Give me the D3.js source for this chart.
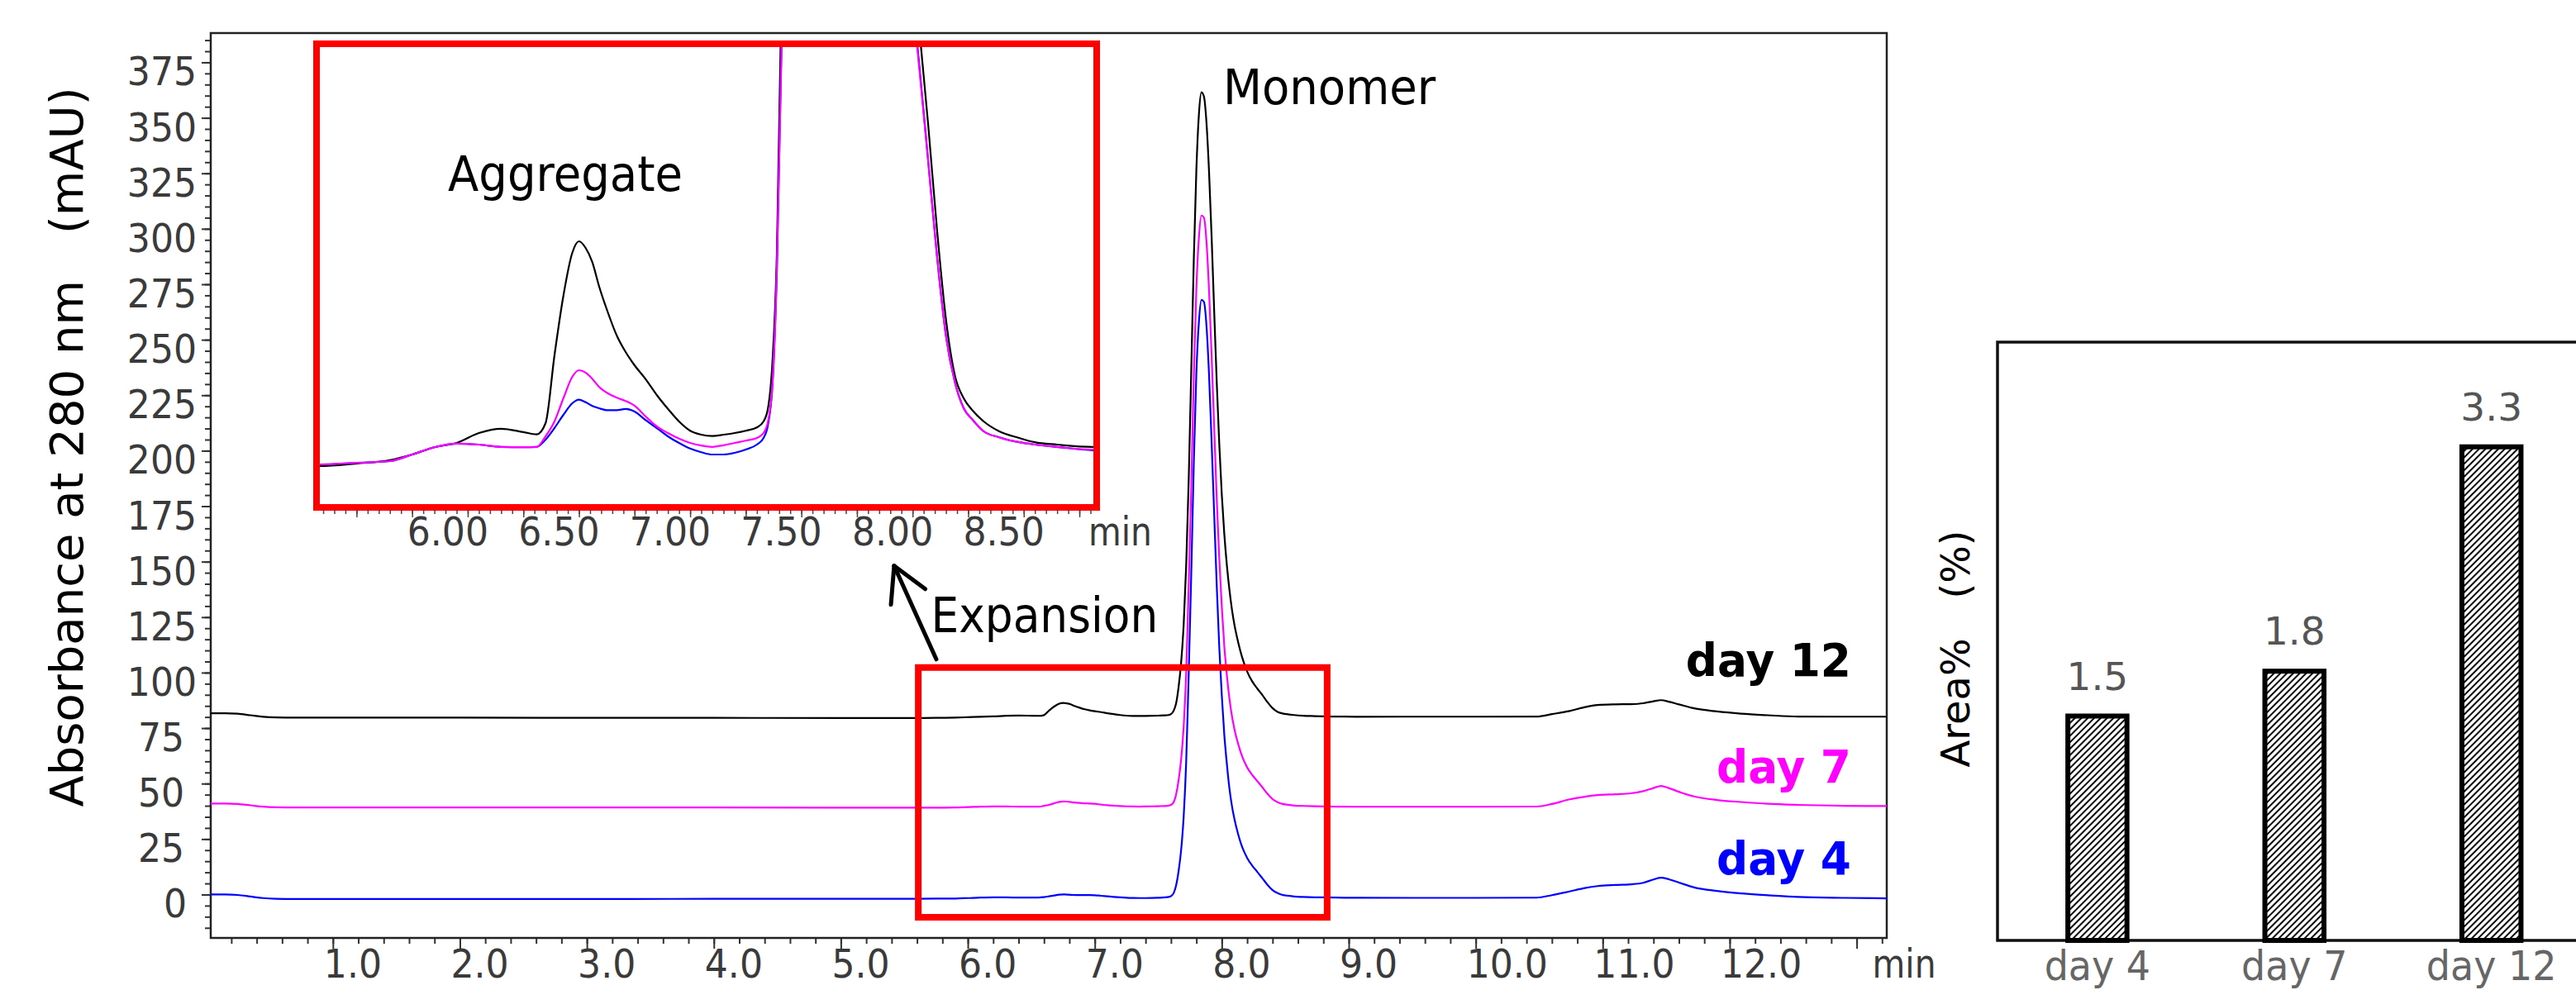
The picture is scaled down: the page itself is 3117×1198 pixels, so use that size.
<!DOCTYPE html>
<html>
<head>
<meta charset="utf-8">
<script src="https://cdn.jsdelivr.net/npm/d3@7"></script>
<style>
  html, body { margin: 0; padding: 0; background: #fff; }
  svg { display: block; }
  text { font-family: "DejaVu Sans", Verdana, sans-serif; }
</style>
</head>
<body>
<svg id="chart" width="3117" height="1198"></svg>
<script>
// ---------------- data ----------------
// Retention time grid (min), shared by all three chromatograms
const retentionTime = [
  0.038, 0.15, 0.25, 0.35, 0.45, 0.55, 0.7, 1.0, 2.0, 3.0, 4.0, 5.0,
  5.58, 5.75, 5.9, 6.0, 6.1, 6.2, 6.3, 6.4, 6.5,
  6.56, 6.6, 6.64, 6.68, 6.72, 6.75, 6.78, 6.81, 6.84, 6.88, 6.92, 6.96,
  7.0, 7.05, 7.1, 7.15, 7.2, 7.25, 7.3, 7.35, 7.4, 7.45, 7.5, 7.55, 7.58,
  7.6, 7.62, 7.64, 7.66, 7.68, 7.70, 7.72, 7.74, 7.76, 7.78, 7.80, 7.82, 7.84, 7.86, 7.88, 7.90, 7.92, 7.94, 7.96, 7.98,
  8.00, 8.02, 8.04, 8.06, 8.08, 8.10, 8.13, 8.16, 8.20, 8.24, 8.28, 8.32, 8.36, 8.40, 8.44,
  8.48, 8.52, 8.57, 8.64, 8.73, 8.80, 8.90, 9.06, 9.5, 10.0, 10.48,
  10.6, 10.74, 10.85, 10.96, 11.1, 11.22, 11.32, 11.40, 11.46, 11.52, 11.60, 11.72, 11.9, 12.09, 12.3, 12.54, 12.9, 13.237
];

// Absorbance at 280 nm (mAU), relative to each run's auto-zero
const absDay4 = [
  0, 0, -0.2, -0.9, -1.6, -1.9, -2.0, -2.0, -2.0, -2.0, -1.95, -1.9,
  -1.9, -1.85, -1.8, -1.6, -1.38, -1.27, -1.3, -1.37, -1.38,
  -1.37, -1.15, -0.8, -0.4, -0.05, 0.06, -0.02, -0.13, -0.2, -0.26, -0.26, -0.22,
  -0.3, -0.56, -0.8, -1.05, -1.25, -1.42, -1.53, -1.6, -1.6, -1.55, -1.45, -1.3, -1.1,
  -0.7, 0.5, 4, 10.5, 20, 35, 60, 100, 145, 195, 235, 258, 268, 267, 256, 234, 204, 172, 140, 112,
  90, 72, 59, 48, 40, 34, 27, 21.5, 16.5, 13, 10.2, 7.3, 4.4, 2.0, 0.6,
  -0.2, -0.55, -0.9, -1.08, -1.23, -1.3, -1.37, -1.47, -1.5, -1.5, -1.4,
  -0.3, 1.4, 2.8, 3.8, 4.3, 4.6, 5.3, 6.8, 7.6, 6.9, 5.4, 3.2, 1.6, 0.5, -0.3, -1.1, -1.5, -1.7
];
const absDay7 = [
  0, 0, -0.2, -0.8, -1.4, -1.65, -1.75, -1.75, -1.75, -1.8, -1.8, -1.85,
  -1.9, -1.85, -1.8, -1.6, -1.38, -1.27, -1.3, -1.37, -1.38,
  -1.37, -1.05, -0.6, 0.1, 0.75, 0.95, 0.88, 0.69, 0.45, 0.25, 0.12, 0.02,
  -0.12, -0.45, -0.75, -0.95, -1.12, -1.25, -1.33, -1.37, -1.32, -1.25, -1.18, -1.1, -0.95,
  -0.6, 0.5, 4, 10.4, 19.8, 34.6, 59, 99, 143, 193, 232, 255, 265, 264, 253, 231, 202, 170, 138, 111,
  89, 71, 58, 47.5, 39.5, 33.5, 26.7, 21.3, 16.3, 12.9, 10.1, 7.3, 4.4, 2.0, 0.6,
  -0.2, -0.55, -0.9, -1.08, -1.23, -1.3, -1.37, -1.45, -1.45, -1.45, -1.35,
  -0.2, 1.9, 3.0, 3.8, 4.2, 4.6, 5.6, 7.0, 7.9, 7.0, 5.3, 3.2, 1.6, 0.7, -0.1, -0.6, -1.0, -1.15
];
const absDay12 = [
  0.2, 0.2, 0, -0.7, -1.4, -1.7, -1.8, -1.8, -1.8, -1.85, -1.9, -1.95,
  -1.95, -1.87, -1.77, -1.6, -1.38, -1.25, -0.95, -0.82, -0.92,
  -0.99, -0.65, 1.4, 3.2, 4.5, 4.85, 4.65, 4.22, 3.5, 2.7, 2.0, 1.5,
  1.1, 0.68, 0.2, -0.22, -0.6, -0.88, -1.0, -1.04, -1.0, -0.95, -0.88, -0.78, -0.6,
  -0.2, 1.2, 4.5, 12, 23, 40, 67, 106, 155, 205, 245, 270, 280, 278, 266, 244, 215, 182, 150, 122,
  99, 81, 67, 56, 47, 40, 32, 25.5, 19, 14.5, 11.3, 8.4, 5.2, 2.5, 0.8,
  0.1, -0.27, -0.6, -0.9, -1.1, -1.23, -1.3, -1.37, -1.35, -1.35, -1.3,
  -0.2, 1.2, 2.8, 3.9, 4.2, 4.3, 4.7, 5.6, 6.1, 5.4, 4.2, 2.4, 1.0, 0.0, -0.7, -1.3, -1.35, -1.35
];

const sampleNames   = ["day 4", "day 7", "day 12"];
const sampleOffsets = [0, 41, 81.5];          // vertical stacking in the overview (mAU)
const sampleColors  = ["#0000ff", "#ff00ff", "#000000"];
const sampleLabelAbs = [9, 50.6, 98.5];       // where each sample name sits (mAU)

const timeRange = [0.038, 13.237];
const absRange  = [-19.56, 388.2];
const yLabelValues = [0, 25, 50, 75, 100, 125, 150, 175, 200, 225, 250, 275, 300, 325, 350, 375];
const xLabelValues = [1, 2, 3, 4, 5, 6, 7, 8, 9, 10, 11, 12];

// Expanded window
const insetTimeRange = [5.585, 9.063];
const insetAbsRange  = [-3.1, 10.725];
const insetLabelValues = [6.0, 6.5, 7.0, 7.5, 8.0, 8.5];
const expansionBox = { t0: 5.61, t1: 8.83, a0: -10.25, a1: 102.3 };

// Aggregate peak area
const aggregateCategories = ["day 4", "day 7", "day 12"];
const aggregateArea = [1.5, 1.8, 3.3];

// ---------------- drawing ----------------
const W = 3117, H = 1198;
const svg = d3.select("#chart");
svg.append("rect").attr("width", W).attr("height", H).attr("fill", "#fff");

const defs = svg.append("defs");

// text helper: optional horizontal squeeze to mimic the narrower face
function addText(g, px, py, str, o) {
  return g.append("text")
    .attr("transform", `translate(${px},${py}) scale(${o.sx || 1},${o.sy || 1})`)
    .attr("text-anchor", o.anchor || "start")
    .attr("font-size", o.size)
    .attr("font-weight", o.weight || "normal")
    .attr("fill", o.fill || "#000")
    .text(str);
}

// ===== main chromatogram =====
const plot = { left: 255, right: 2283, top: 40, bottom: 1135 };
const x = d3.scaleLinear().domain(timeRange).range([plot.left, plot.right]);
const y = d3.scaleLinear().domain(absRange).range([plot.bottom, plot.top]);

defs.append("clipPath").attr("id", "clipMain")
  .append("rect").attr("x", plot.left).attr("y", plot.top)
  .attr("width", plot.right - plot.left).attr("height", plot.bottom - plot.top);

const gMain = svg.append("g");

function tickStyle(g, color, w) {
  g.select(".domain").remove();
  g.selectAll("line").attr("stroke", color).attr("stroke-width", w);
}

// y ticks
const yMinor = d3.range(-15, 386, 5);
gMain.append("g").attr("transform", `translate(${plot.left},0)`)
  .call(d3.axisLeft(y).tickValues(yMinor).tickSize(7).tickFormat(""))
  .call(tickStyle, "#333", 2);
gMain.append("g").attr("transform", `translate(${plot.left},0)`)
  .call(d3.axisLeft(y).tickValues(yLabelValues).tickSize(11).tickFormat(""))
  .call(tickStyle, "#333", 2);

// label centre depends on digit count (single "0" sits further right)
const yLabelCentre = { 1: 212, 2: 195, 3: 196 };
yLabelValues.forEach(v => {
  const s = String(v);
  addText(gMain, yLabelCentre[s.length], y(v) + 28, s,
    { size: 48, sx: 0.92, anchor: "middle", fill: "#3a3a3a" });
});

// x ticks
const xMinor = d3.range(1, 67).map(i => +(i * 0.2).toFixed(1));
const xMajor = d3.range(1, 14);
gMain.append("g").attr("transform", `translate(0,${plot.bottom})`)
  .call(d3.axisBottom(x).tickValues(xMinor).tickSize(7).tickFormat(""))
  .call(tickStyle, "#333", 2);
gMain.append("g").attr("transform", `translate(0,${plot.bottom})`)
  .call(d3.axisBottom(x).tickValues(xMajor).tickSize(13).tickFormat(""))
  .call(tickStyle, "#333", 2);

xLabelValues.forEach(v => {
  addText(gMain, x(v) - 11, 1183, d3.format(".1f")(v), { size: 48, sx: 0.92, fill: "#3a3a3a" });
});
addText(gMain, x(13) + 19, 1183, "min", { size: 48, sx: 0.85, fill: "#3a3a3a" });

// frame
gMain.append("rect")
  .attr("x", plot.left).attr("y", plot.top)
  .attr("width", plot.right - plot.left).attr("height", plot.bottom - plot.top)
  .attr("fill", "none").attr("stroke", "#222").attr("stroke-width", 2.5);

// traces
const drawOrder = [2, 0, 1];
const gTraces = gMain.append("g").attr("clip-path", "url(#clipMain)");
const series = [absDay4, absDay7, absDay12];
const lineMain = d3.line().x(d => x(d[0])).y(d => y(d[1])).curve(d3.curveMonotoneX);
drawOrder.forEach(i => {
  const pts = retentionTime.map((t, k) => [t, series[i][k] + sampleOffsets[i]]);
  gTraces.append("path").datum(pts)
    .attr("d", lineMain).attr("fill", "none")
    .attr("stroke", sampleColors[i]).attr("stroke-width", 2.2)
    .attr("stroke-linejoin", "round");
});

// sample names
sampleNames.forEach((nm, i) => {
  addText(gMain, x(12.957), y(sampleLabelAbs[i]), nm,
    { size: 55, sx: 0.97, anchor: "end", weight: "bold", fill: sampleColors[i] });
});

// expansion box
gMain.append("rect")
  .attr("x", x(expansionBox.t0)).attr("y", y(expansionBox.a1))
  .attr("width", x(expansionBox.t1) - x(expansionBox.t0))
  .attr("height", y(expansionBox.a0) - y(expansionBox.a1))
  .attr("fill", "none").attr("stroke", "#ff0000").attr("stroke-width", 8);

// arrow toward the expanded view
const tail = [x(5.752), y(106)], tip = [x(5.42), y(148.1)];
const back = Math.atan2(tail[1] - tip[1], tail[0] - tip[0]);
const headLen = 47, headAng = 29 * Math.PI / 180;
const gArrow = gMain.append("g").attr("stroke", "#000").attr("stroke-width", 5)
  .attr("fill", "none").attr("stroke-linecap", "round");
gArrow.append("line").attr("x1", tail[0]).attr("y1", tail[1]).attr("x2", tip[0]).attr("y2", tip[1]);
[-1, 1].forEach(s => {
  gArrow.append("line").attr("x1", tip[0]).attr("y1", tip[1])
    .attr("x2", tip[0] + headLen * Math.cos(back + s * headAng))
    .attr("y2", tip[1] + headLen * Math.sin(back + s * headAng));
});
addText(gMain, x(5.71), y(118.3), "Expansion", { size: 58, sx: 0.92 });
addText(gMain, x(8.01), y(356), "Monomer", { size: 58, sx: 0.94 });

// ===== expanded view =====
const inset = { left: 387, right: 1323, top: 57, bottom: 610 };
const xi = d3.scaleLinear().domain(insetTimeRange).range([inset.left, inset.right]);
const yi = d3.scaleLinear().domain(insetAbsRange).range([inset.bottom, inset.top]);

defs.append("clipPath").attr("id", "clipInset")
  .append("rect").attr("x", inset.left).attr("y", inset.top)
  .attr("width", inset.right - inset.left).attr("height", inset.bottom - inset.top);

const gInset = svg.append("g");
gInset.append("rect").attr("x", inset.left - 8).attr("y", inset.top - 8)
  .attr("width", inset.right - inset.left + 16).attr("height", inset.bottom - inset.top + 16)
  .attr("fill", "#fff");

const gInsetTraces = gInset.append("g").attr("clip-path", "url(#clipInset)");
const lineInset = d3.line().x(d => xi(d[0])).y(d => yi(d[1])).curve(d3.curveMonotoneX);
drawOrder.forEach(i => {
  const pts = retentionTime.map((t, k) => [t, series[i][k]]);
  gInsetTraces.append("path").datum(pts)
    .attr("d", lineInset).attr("fill", "none")
    .attr("stroke", sampleColors[i]).attr("stroke-width", 2.2)
    .attr("stroke-linejoin", "round");
});

gInset.append("rect")
  .attr("x", inset.left - 4).attr("y", inset.top - 4)
  .attr("width", inset.right - inset.left + 8).attr("height", inset.bottom - inset.top + 8)
  .attr("fill", "none").attr("stroke", "#ff0000").attr("stroke-width", 8);

// inset x ticks
const insetMinor = d3.range(112, 182).map(i => +(i * 0.05).toFixed(2));
const insetMajor = d3.range(23, 37).map(i => i * 0.25);
gInset.append("g").attr("transform", `translate(0,${inset.bottom + 7})`)
  .call(d3.axisBottom(xi).tickValues(insetMinor).tickSize(5).tickFormat(""))
  .call(tickStyle, "#444", 1.5);
gInset.append("g").attr("transform", `translate(0,${inset.bottom + 7})`)
  .call(d3.axisBottom(xi).tickValues(insetMajor).tickSize(9).tickFormat(""))
  .call(tickStyle, "#444", 1.5);
insetLabelValues.forEach(v => {
  addText(gInset, xi(v) - 6, 660, d3.format(".2f")(v), { size: 48, sx: 0.92, fill: "#3a3a3a" });
});
addText(gInset, 1317, 660, "min", { size: 48, sx: 0.85, fill: "#3a3a3a" });
addText(gInset, xi(6.161), yi(6.375), "Aggregate", { size: 58, sx: 0.94 });

// y-axis title
addText(svg, 0, 0, "Absorbance at 280 nm\u3000(mAU)", { size: 56 })
  .attr("transform", "translate(100,541) rotate(-90)")
  .attr("text-anchor", "middle");

// ===== aggregate area bars =====
const bx = d3.scaleBand().domain(aggregateCategories)
  .range([2418.7, 3133.9]).paddingInner(0.7).paddingOuter(0.35);
const by = d3.scaleLinear().domain([0, 4]).range([1138, 414]);

const hatch = defs.append("pattern").attr("id", "hatch")
  .attr("patternUnits", "userSpaceOnUse").attr("width", 5.5).attr("height", 5.5)
  .attr("patternTransform", "rotate(-45)");
hatch.append("rect").attr("width", 5.5).attr("height", 5.5).attr("fill", "#fff");
hatch.append("line").attr("x1", 0).attr("y1", 2.75).attr("x2", 5.5).attr("y2", 2.75)
  .attr("stroke", "#000").attr("stroke-width", 2);

const gBar = svg.append("g");
gBar.append("path")
  .attr("d", `M${W + 5},${by.range()[1]} H2417 V${by(0)} H${W + 5}`)
  .attr("fill", "none").attr("stroke", "#111").attr("stroke-width", 3.5);

gBar.selectAll("rect.bar").data(aggregateArea).join("rect").attr("class", "bar")
  .attr("x", (d, i) => bx(aggregateCategories[i]))
  .attr("width", bx.bandwidth())
  .attr("y", d => by(d))
  .attr("height", d => by(0) - by(d))
  .attr("fill", "url(#hatch)").attr("stroke", "#000").attr("stroke-width", 6);

aggregateArea.forEach((v, i) => {
  const cx = bx(aggregateCategories[i]) + bx.bandwidth() / 2;
  addText(gBar, cx, by(v) - 32, d3.format(".1f")(v), { size: 47, anchor: "middle", fill: "#555" });
  addText(gBar, cx, 1186, aggregateCategories[i], { size: 50, sx: 0.92, anchor: "middle", fill: "#666" });
});

addText(svg, 0, 0, "Area%\u3000(%)", { size: 48 })
  .attr("transform", "translate(2383,785) rotate(-90)")
  .attr("text-anchor", "middle");
</script>
</body>
</html>
